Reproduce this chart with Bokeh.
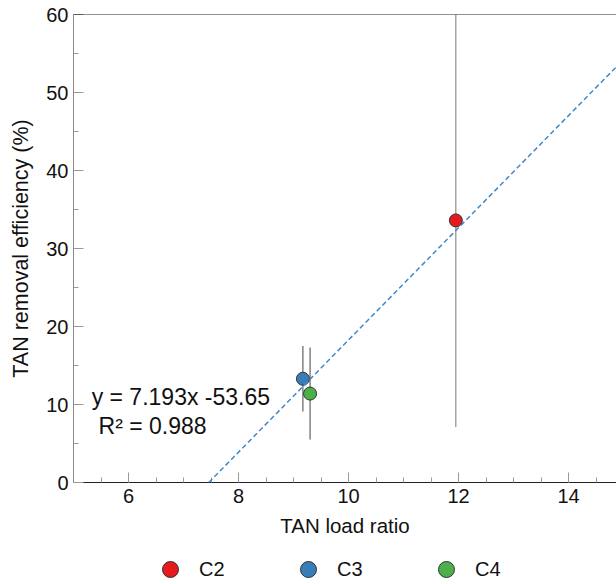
from bokeh.plotting import figure
from bokeh.layouts import column
from bokeh.models import (Range1d, SingleIntervalTicker, Slope, Label, Legend, LegendItem, Span)
from bokeh.embed import file_html
from bokeh.resources import INLINE

# ---- data ----
categories = ["C2", "C3", "C4"]
load_ratio = [11.95, 9.17, 9.30]
removal_eff = [33.6, 13.3, 11.4]
eff_err = [26.5, 4.2, 5.9]
colors = ["#e41a1c", "#377eb8", "#4daf4a"]
fit_slope = 7.193
fit_intercept = -53.65
fit_r2 = 0.988

FONT = "Liberation Sans"

p = figure(width=616, height=545, output_backend="svg", toolbar_location=None,
           x_range=Range1d(5, 14.87), y_range=Range1d(0, 60),
           min_border_left=73, min_border_right=0, min_border_top=14, min_border_bottom=63)
p.outline_line_color = None
p.xgrid.visible = False
p.ygrid.visible = False
p.background_fill_color = "white"
p.border_fill_color = "white"

# axes
p.xaxis.ticker = SingleIntervalTicker(interval=2, num_minor_ticks=4)
p.yaxis.ticker = SingleIntervalTicker(interval=10, num_minor_ticks=2)
for ax in (p.xaxis[0], p.yaxis[0]):
    ax.major_tick_in = 10
    ax.major_tick_out = 0
    ax.minor_tick_in = 5
    ax.minor_tick_out = 0
    ax.major_tick_line_color = "#999999"
    ax.minor_tick_line_color = "#999999"
    ax.major_label_text_font = FONT
    ax.major_label_text_font_size = "20px"
    ax.major_label_text_color = "#111111"
    ax.axis_label_text_font = FONT
    ax.axis_label_text_font_style = "normal"
    ax.axis_label_text_color = "#111111"
p.xaxis.axis_label_text_font_size = "20.5px"
p.yaxis.axis_label_text_font_size = "21.5px"
p.xaxis.axis_line_color = "#222222"
p.yaxis.axis_line_color = "#888888"
p.xaxis.major_label_standoff = 6
p.yaxis.major_label_standoff = 5
p.xaxis.axis_label = "TAN load ratio"
p.yaxis.axis_label = "TAN removal efficiency (%)"
p.xaxis.axis_label_standoff = 8
p.yaxis.axis_label_standoff = 10

# top spine
p.add_layout(Span(location=60, dimension="width", line_color="#222222", line_width=1))

# regression line
p.add_layout(Slope(gradient=fit_slope, y_intercept=fit_intercept,
                   line_color="#4088c8", line_width=1.5, line_dash="5 3"))

# error bars
lower = [m - e for m, e in zip(removal_eff, eff_err)]
upper = [m + e for m, e in zip(removal_eff, eff_err)]
p.segment(x0=load_ratio, y0=lower, x1=load_ratio, y1=upper,
          line_color=["#777777", "#444444", "#444444"], line_width=1)

# points
for x, y, c in zip(load_ratio, removal_eff, colors):
    p.scatter([x], [y], size=13, fill_color=c, line_color="#333333", line_width=1)

# equation text
p.add_layout(Label(x=5.33, y=10.9, text="y = 7.193x -53.65", text_font=FONT,
                   text_font_size="23px", text_color="#111111", text_baseline="alphabetic"))
p.add_layout(Label(x=5.455, y=7.2, text="R\u00b2 = %.3f" % fit_r2, text_font=FONT,
                   text_font_size="23px", text_color="#111111", text_baseline="alphabetic"))

# legend strip (same data, plotted out of view so only the legend shows)
lg = figure(width=616, height=39, output_backend="svg", toolbar_location=None,
            x_range=Range1d(5, 14.87), y_range=Range1d(100, 101),
            x_axis_type=None, y_axis_type=None,
            min_border=0, min_border_left=0, min_border_right=0, min_border_top=0, min_border_bottom=0)
lg.outline_line_color = None
lg.xgrid.visible = False
lg.ygrid.visible = False
items = []
for cat, x, y, c in zip(categories, load_ratio, removal_eff, colors):
    r = lg.scatter(x=[x], y=[y], size=13, fill_color=c, line_color="#333333", line_width=1)
    items.append(LegendItem(label=cat, renderers=[r]))
legend = Legend(items=items, orientation="horizontal", location=(77, -5),
                glyph_width=40, glyph_height=40, label_standoff=9, label_width=80,
                spacing=9, padding=0, margin=0,
                label_text_font=FONT, label_text_font_size="20px", label_text_color="#111111",
                border_line_alpha=0, background_fill_alpha=0)
lg.add_layout(legend, "center")

layout = column(p, lg, spacing=0)
open("out.html", "w").write(file_html(layout, INLINE))
